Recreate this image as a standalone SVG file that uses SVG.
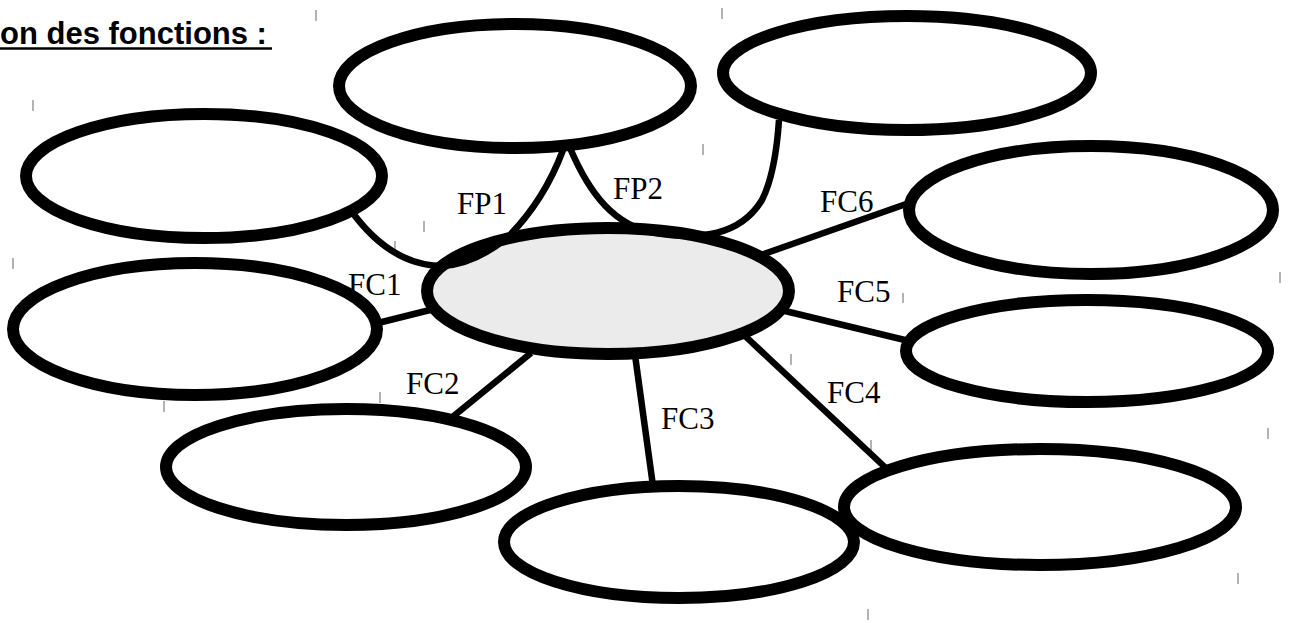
<svg xmlns="http://www.w3.org/2000/svg" width="1293" height="623" viewBox="0 0 1293 623">
<style>
.node{fill:#fff;stroke:#000;stroke-width:12}
.center{fill:#ebebeb;stroke:#000;stroke-width:12}
.conn{fill:none;stroke:#000;stroke-width:6.5}
.lbl{font-family:"Liberation Serif",serif;font-size:31px;fill:#000}
.tick{stroke:#808080;stroke-width:1.2}
.title{font-family:"Liberation Sans",Arial,sans-serif;font-size:31px;font-weight:bold;fill:#000}
</style>
<rect width="1293" height="623" fill="#fff"/>
<g id="title">
<text class="title" x="0" y="44">on des fonctions :</text>
<line x1="0" y1="48.5" x2="272" y2="48.5" stroke="#000" stroke-width="2.5"/>
</g>
<g id="ticks">
<line class="tick" x1="316" y1="10" x2="316" y2="21"/>
<line class="tick" x1="722" y1="8" x2="722" y2="19"/>
<line class="tick" x1="33" y1="100" x2="33" y2="111"/>
<line class="tick" x1="13" y1="258" x2="13" y2="269"/>
<line class="tick" x1="164" y1="401" x2="164" y2="412"/>
<line class="tick" x1="380" y1="392" x2="380" y2="403"/>
<line class="tick" x1="500" y1="479" x2="500" y2="490"/>
<line class="tick" x1="424" y1="221" x2="424" y2="232"/>
<line class="tick" x1="395" y1="241" x2="395" y2="252"/>
<line class="tick" x1="703" y1="144" x2="703" y2="155"/>
<line class="tick" x1="903" y1="293" x2="903" y2="303"/>
<line class="tick" x1="791" y1="354" x2="791" y2="365"/>
<line class="tick" x1="871" y1="440" x2="871" y2="451"/>
<line class="tick" x1="1280" y1="272" x2="1280" y2="283"/>
<line class="tick" x1="1268" y1="428" x2="1268" y2="439"/>
<line class="tick" x1="1238" y1="573" x2="1238" y2="584"/>
<line class="tick" x1="868" y1="609" x2="868" y2="620"/>
</g>
<g id="labels">
<text class="lbl" x="457" y="214">FP1</text>
<text class="lbl" x="613" y="199">FP2</text>
<text class="lbl" x="348" y="295">FC1</text>
<text class="lbl" x="406" y="394">FC2</text>
<text class="lbl" x="661" y="429">FC3</text>
<text class="lbl" x="827" y="403">FC4</text>
<text class="lbl" x="837" y="302">FC5</text>
<text class="lbl" x="820" y="212">FC6</text>
</g>
<g id="node-fp-top"><ellipse class="node" cx="515" cy="86" rx="176" ry="62"/></g>
<g id="node-top-right"><ellipse class="node" cx="907" cy="73" rx="184" ry="57"/></g>
<g id="node-left-top"><ellipse class="node" cx="204" cy="176" rx="178" ry="62"/></g>
<g id="node-fc6"><ellipse class="node" cx="1091" cy="210" rx="182" ry="64"/></g>
<g id="node-fc1"><ellipse class="node" cx="195" cy="329" rx="182" ry="66"/></g>
<g id="node-fc5"><ellipse class="node" cx="1087" cy="351" rx="181" ry="51"/></g>
<g id="node-fc2"><ellipse class="node" cx="346" cy="467" rx="180" ry="58"/></g>
<g id="node-fc4"><ellipse class="node" cx="1040" cy="507" rx="196" ry="58"/></g>
<g id="node-fc3"><ellipse class="node" cx="679" cy="542" rx="175" ry="56"/></g>
<g id="node-center"><ellipse class="center" cx="608" cy="291" rx="181" ry="63"/></g>
<g id="connectors">
<path class="conn" d="M 352 212 C 380 250, 412 266, 443 266 C 470 264, 492 250, 507 238 C 530 215, 550 185, 563 150"/>
<path class="conn" d="M 570 148 C 590 195, 615 226, 655 233 C 700 240, 740 236, 762 200 C 772 180, 777 150, 779 120"/>
<line class="conn" x1="378" y1="323" x2="434" y2="309"/>
<line class="conn" x1="450" y1="419" x2="531" y2="353"/>
<line class="conn" x1="635" y1="355" x2="653" y2="486"/>
<line class="conn" x1="744" y1="335" x2="888" y2="470"/>
<line class="conn" x1="781" y1="310" x2="909" y2="341"/>
<line class="conn" x1="758" y1="256" x2="909" y2="203"/>
</g>
</svg>
